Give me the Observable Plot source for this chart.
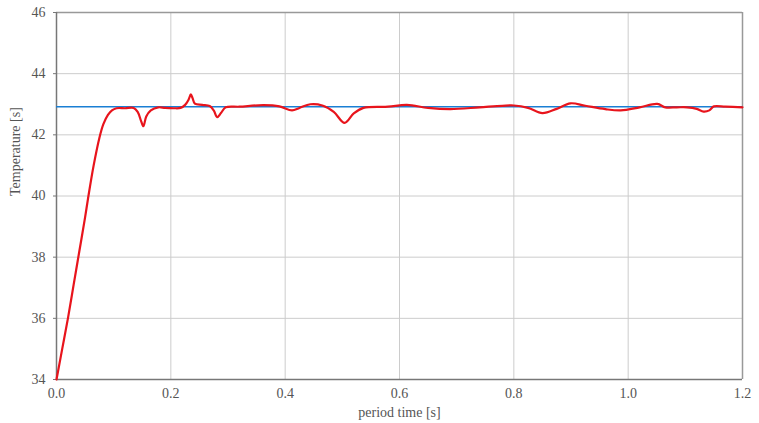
<!DOCTYPE html>
<html>
<head>
<meta charset="utf-8">
<script src="https://cdn.jsdelivr.net/npm/d3@7"></script>
<script src="https://cdn.jsdelivr.net/npm/@observablehq/plot@0.6"></script>
<style>
  body { margin: 0; background: #fff; }
  #chart svg { display: block; }
</style>
</head>
<body>
<div id="chart"></div>
<script>
const xTicks = [0, 0.2, 0.4, 0.6, 0.8, 1.0, 1.2];
const yTicks = [34, 36, 38, 40, 42, 44, 46];
const setpoint = 42.92;

const time = [0, 0.01, 0.02, 0.03, 0.04, 0.05, 0.055, 0.065, 0.075, 0.082, 0.09, 0.097, 0.105, 0.12, 0.135, 0.142, 0.148, 0.152, 0.157, 0.165, 0.178, 0.19, 0.205, 0.217, 0.225, 0.231, 0.235, 0.238, 0.242, 0.255, 0.268, 0.275, 0.281, 0.288, 0.296, 0.32, 0.362, 0.39, 0.412, 0.425, 0.444, 0.465, 0.485, 0.504, 0.52, 0.537, 0.58, 0.613, 0.65, 0.689, 0.74, 0.78, 0.8, 0.825, 0.85, 0.875, 0.899, 0.925, 0.96, 0.987, 1.02, 1.051, 1.065, 1.085, 1.103, 1.12, 1.132, 1.142, 1.15, 1.17, 1.2];
const temp = [34.0, 35.0, 36.0, 37.1, 38.2, 39.3, 39.9, 41.0, 41.9, 42.35, 42.65, 42.8, 42.87, 42.87, 42.88, 42.75, 42.45, 42.28, 42.6, 42.8, 42.9, 42.88, 42.87, 42.88, 42.98, 43.15, 43.32, 43.2, 43.02, 42.98, 42.94, 42.8, 42.58, 42.72, 42.9, 42.92, 42.97, 42.93, 42.8, 42.88, 43.0, 42.96, 42.75, 42.39, 42.7, 42.88, 42.92, 42.98, 42.88, 42.84, 42.9, 42.95, 42.96, 42.88, 42.71, 42.85, 43.03, 42.95, 42.84, 42.8, 42.9, 43.01, 42.9, 42.9, 42.9, 42.85, 42.76, 42.8, 42.93, 42.92, 42.9];

const data = time.map((t, i) => ({t, v: temp[i]}));
const FONT = "'Times New Roman', 'Liberation Serif', 'DejaVu Serif', serif";

const chart = Plot.plot({
  width: 759,
  height: 423,
  marginLeft: 56,
  marginRight: 17,
  marginTop: 12,
  marginBottom: 44,
  style: {fontFamily: FONT, fontSize: "14px", color: "#555", background: "#fff"},
  x: {domain: [0, 1.2], ticks: xTicks, tickFormat: d3.format(".1f"), label: null},
  y: {domain: [34, 46], ticks: yTicks, label: null},
  marks: [
    Plot.gridX(xTicks, {stroke: "#ccc", strokeOpacity: 1, strokeWidth: 1}),
    Plot.gridY(yTicks, {stroke: "#ccc", strokeOpacity: 1, strokeWidth: 1}),
    Plot.axisX({ticks: xTicks, tickFormat: d3.format(".1f"), tickSize: 0, tickPadding: 9, fontSize: 14, fontFamily: FONT, fill: "#555", label: null}),
    Plot.axisY({ticks: yTicks, tickSize: 3, tickPadding: 8, fontSize: 14, fontFamily: FONT, fill: "#555", stroke: "#777", label: null}),
    Plot.ruleY([46], {stroke: "#999", strokeWidth: 1.5}),
    Plot.ruleX([1.2], {stroke: "#999", strokeWidth: 1.5}),
    Plot.ruleY([34], {stroke: "#777", strokeWidth: 1.5}),
    Plot.ruleX([0], {stroke: "#777", strokeWidth: 1.5}),
    Plot.ruleY([setpoint], {stroke: "#1a7fd4", strokeWidth: 1.5}),
    Plot.line(data, {x: "t", y: "v", stroke: "#e8141c", strokeWidth: 2.2, curve: "catmull-rom"}),
    Plot.text(["period time [s]"], {frameAnchor: "bottom", dy: 37, fontSize: 14, fontFamily: FONT, fill: "#555"}),
    Plot.text(["Temperature [s]"], {frameAnchor: "left", dx: -41, rotate: -90, fontSize: 14, fontFamily: FONT, fill: "#555"})
  ]
});
document.getElementById("chart").appendChild(chart);
</script>
</body>
</html>
